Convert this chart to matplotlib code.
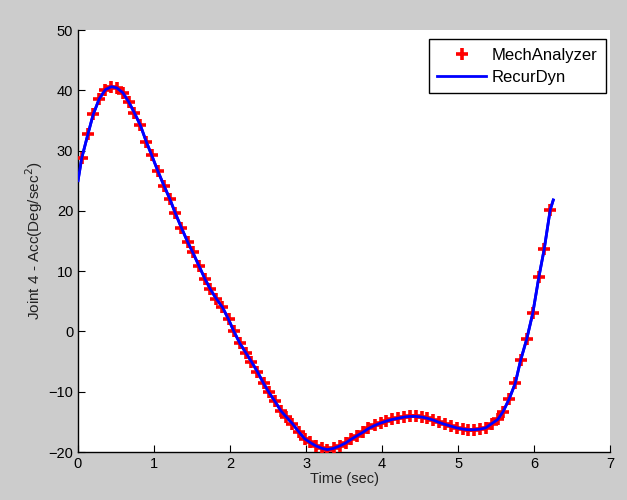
import matplotlib.pyplot as plt

plt.rcParams['font.family'] = ['Liberation Sans', 'DejaVu Sans']

# MechAnalyzer samples (time in sec, acceleration in deg/sec^2)
mech_t = [0.05, 0.13, 0.20, 0.28, 0.36, 0.44, 0.51, 0.59, 0.67, 0.74,
          0.82, 0.90, 0.97, 1.05, 1.13, 1.21, 1.28, 1.36, 1.44, 1.51,
          1.59, 1.67, 1.74, 1.82, 1.90, 1.98, 2.05, 2.13, 2.21, 2.28,
          2.36, 2.44, 2.51, 2.59, 2.67, 2.74, 2.82, 2.90, 2.98, 3.05,
          3.13, 3.21, 3.28, 3.36, 3.44, 3.52, 3.59, 3.67, 3.75, 3.82,
          3.90, 3.98, 4.05, 4.13, 4.21, 4.29, 4.36, 4.44, 4.52, 4.59,
          4.67, 4.75, 4.82, 4.90, 4.98, 5.06, 5.13, 5.21, 5.29, 5.36,
          5.44, 5.52, 5.59, 5.67, 5.75, 5.82, 5.90, 5.98, 6.06, 6.13,
          6.21]
mech_acc = [28.8, 32.7, 36.0, 38.6, 40.1, 40.6, 40.4, 39.6, 38.0, 36.3,
            34.2, 31.4, 29.2, 26.6, 24.2, 21.9, 19.6, 17.2, 14.9, 13.1,
            10.9, 8.7, 7.0, 5.4, 4.0, 2.0, 0.0, -2.0, -3.6, -5.0,
            -6.7, -8.6, -10.1, -11.6, -13.2, -14.2, -15.3, -16.6, -17.8, -18.4,
            -19.0, -19.4, -19.6, -19.4, -19.0, -18.5, -17.9, -17.3, -16.7, -16.1,
            -15.6, -15.2, -14.9, -14.6, -14.4, -14.2, -14.1, -14.1, -14.2, -14.4,
            -14.7, -15.1, -15.4, -15.7, -16.0, -16.2, -16.3, -16.3, -16.2, -16.0,
            -15.3, -14.6, -13.3, -11.2, -8.6, -4.8, -1.3, 3.0, 9.0, 13.6,
            20.2]

# RecurDyn curve: same samples plus its own start/end points
rd_t = [0.0] + mech_t + [6.25]
rd_acc = [25.0] + mech_acc + [21.8]

fig = plt.figure(figsize=(6.27, 5.0), dpi=100, facecolor='#cccccc')
ax = fig.add_axes([0.1244, 0.096, 0.849, 0.844])
ax.set_facecolor('white')

ax.plot(rd_t, rd_acc, color='blue', lw=2, label='RecurDyn', zorder=2)
ax.plot(mech_t, mech_acc, ls='none', marker='+', ms=8, mew=2.6,
        color='red', label='MechAnalyzer', zorder=3)
ax.plot(rd_t, rd_acc, color='blue', lw=2, zorder=4)

ax.set_xlim(0, 7)
ax.set_ylim(-20, 50)
ax.set_xticks(range(0, 8))
ax.set_yticks(range(-20, 51, 10))

for s in ['top', 'right']:
    ax.spines[s].set_visible(False)
for s in ['left', 'bottom']:
    ax.spines[s].set_linewidth(1.0)
ax.tick_params(direction='in', length=5, labelsize=10.5, colors='black')

ax.set_xlabel('Time (sec)', fontsize=10.5, color='#222222', labelpad=1)
ax.set_ylabel('Joint 4 - Acc(Deg/sec$^2$)', fontsize=11, color='#222222', labelpad=2)

h, l = ax.get_legend_handles_labels()
leg = ax.legend([h[1], h[0]], [l[1], l[0]], loc='upper right',
                bbox_to_anchor=(0.991, 0.978), borderaxespad=0,
                fontsize=12, fancybox=False,
                edgecolor='black', framealpha=1, numpoints=1,
                handlelength=2.95, borderpad=0.5, labelspacing=0.45,
                handletextpad=0.3)
leg.get_frame().set_linewidth(1.0)

fig.savefig('out.png', dpi=100, facecolor=fig.get_facecolor())
